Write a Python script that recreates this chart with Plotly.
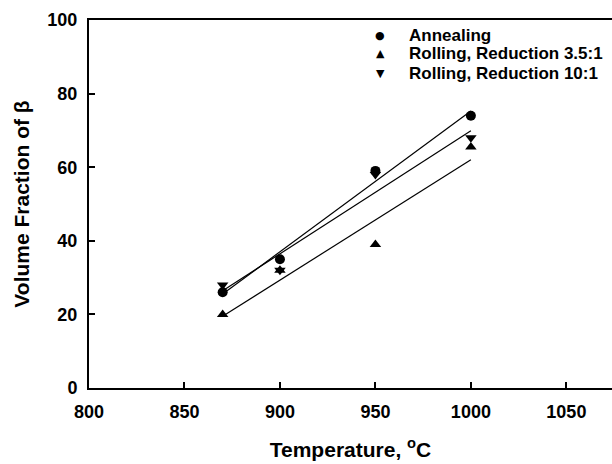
import numpy as np
import plotly.graph_objects as go

temps = [870, 900, 950, 1000]
annealing = [26, 35, 59, 74]
rolling_35 = [20, 32, 39, 65.5]
rolling_10 = [28, 32, 58, 68]

series_names = ["Annealing", "Rolling, Reduction 3.5:1", "Rolling, Reduction 10:1"]
series_values = [annealing, rolling_35, rolling_10]
series_symbols = ["circle", "triangle-up", "triangle-down"]
legend_glyphs = ["●", "▲", "▼"]

FONT = "Liberation Sans, Arial, sans-serif"

fig = go.Figure()
x = np.array(temps, dtype=float)
for vals in series_values:
    slope, icpt = np.polyfit(x, np.array(vals, dtype=float), 1)
    xs = np.array([x.min(), x.max()])
    fig.add_trace(go.Scatter(x=xs, y=slope * xs + icpt, mode="lines",
                             line=dict(color="black", width=1.2),
                             showlegend=False, hoverinfo="skip"))
for name, vals, sym in zip(series_names, series_values, series_symbols):
    fig.add_trace(go.Scatter(x=temps, y=vals, mode="markers", name=name,
                             showlegend=False,
                             marker=dict(symbol=sym, size=10, color="black",
                                         line=dict(width=0))))

# legend drawn as text rows (symbol glyph + label)
row_y = [35, 54, 73]
plot_left, plot_w = 89, 523
plot_top, plot_h = 20, 368
for name, glyph, ry in zip(series_names, legend_glyphs, row_y):
    yp = 1 - (ry - plot_top) / plot_h
    fig.add_annotation(xref="paper", yref="paper", x=(380 - plot_left) / plot_w, y=yp,
                       text=glyph, showarrow=False, xanchor="center", yanchor="middle",
                       font=dict(family="DejaVu Sans", size=11, color="black"))
    fig.add_annotation(xref="paper", yref="paper", x=(407 - plot_left) / plot_w, y=yp,
                       text="<b>" + name + "</b>", showarrow=False,
                       xanchor="left", yanchor="middle",
                       font=dict(family=FONT, size=17, color="black"))

fig.update_layout(
    width=612, height=464,
    margin=dict(l=89, r=0, t=20, b=76),
    paper_bgcolor="white", plot_bgcolor="white",
    font=dict(family=FONT, color="black"),
    showlegend=False,
    xaxis=dict(range=[800, 1073.9], tickvals=[800, 850, 900, 950, 1000, 1050],
               ticks="inside", ticklen=6, tickwidth=1.5, tickcolor="black",
               showline=True, linecolor="black", linewidth=2, mirror=True,
               showgrid=False, zeroline=False, automargin=False,
               ticklabelstandoff=6,
               tickfont=dict(family=FONT, size=18, color="black", weight="bold"),
               title=dict(text="<b>Temperature, <sup>o</sup>C</b>", standoff=22,
                          font=dict(family=FONT, size=21, color="black"))),
    yaxis=dict(range=[0, 100], tickvals=[0, 20, 40, 60, 80, 100],
               ticks="inside", ticklen=6, tickwidth=1.5, tickcolor="black",
               showline=True, linecolor="black", linewidth=2, mirror=False,
               showgrid=False, zeroline=False, automargin=False,
               ticklabelstandoff=6,
               tickfont=dict(family=FONT, size=18, color="black", weight="bold"),
               title=dict(text="<b>Volume Fraction of β</b>", standoff=12,
                          font=dict(family=FONT, size=21, color="black"))),
)
fig.write_html("out.html", config={"displayModeBar": False},
               post_script="document.body.style.margin='0';document.body.style.overflow='hidden';")
